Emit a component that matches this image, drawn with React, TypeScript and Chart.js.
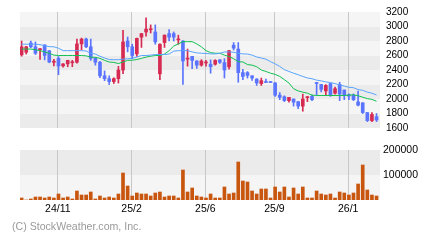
import React, { useEffect, useRef } from 'react';
import { Chart, registerables } from 'chart.js';

Chart.register(...registerables);

// ---- data (weekly candles) ----
const OPEN = [2609,2645,2773,2720,2680,2745,2665,2507,2560,2457, 2485,2500,2507,2760,2827,2720,2560,2507,2320,2280, 2240,2280,2400,2800,2720,2622,2853,2924,2955,2924, 2347,2778,2902,2902,2815,2800,2550,2587,2524,2467, 2497,2480,2480,2540,2502,2444,2742,2689,2364,2364, 2320,2276,2213,2235,2231,2222,2053,2031,1978,2000, 1964,1902,2018,2036,2222,2200,2111,2213,2080,2200, 2124,2060,2053,1960,1947,1813,1702,1756];
const HIGH = [2800,2725,2800,2787,2700,2750,2670,2547,2585,2490, 2535,2533,2827,2840,2840,2827,2573,2520,2387,2320, 2293,2450,2947,2855,2756,2840,2905,3120,3022,3022, 2760,2885,2956,2925,2880,2805,2689,2590,2530,2542, 2533,2540,2542,2545,2556,2670,2778,2778,2409,2378, 2320,2280,2289,2276,2231,2225,2089,2044,2022,2000, 1964,2067,2036,2053,2231,2200,2200,2213,2164,2231, 2124,2070,2070,2110,1950,1813,1813,1800];
const LOW = [2591,2620,2707,2613,2547,2540,2500,2455,2335,2440, 2445,2445,2493,2680,2707,2533,2467,2293,2253,2200, 2213,2220,2350,2650,2556,2587,2711,2867,2910,2756, 2267,2711,2800,2800,2756,2200,2453,2420,2422,2453, 2453,2356,2467,2490,2290,2410,2676,2231,2267,2289, 2258,2187,2187,2227,2227,2036,1991,1964,1956,1902, 1867,1831,1964,1978,2053,2098,2053,2036,2067,1978, 1991,1990,1978,1905,1800,1689,1689,1689];
const CLOSE = [2720,2720,2720,2631,2693,2600,2510,2520,2455,2484, 2533,2507,2760,2827,2720,2560,2507,2320,2280,2240, 2280,2400,2787,2720,2600,2836,2902,2964,2965,2787, 2756,2880,2853,2853,2825,2525,2560,2533,2467,2524, 2507,2445,2533,2505,2400,2667,2702,2364,2311,2325, 2290,2222,2253,2227,2227,2053,2022,1978,2022,1956, 1902,2000,2025,1991,2213,2133,2187,2053,2142,2067, 2053,2040,1991,1915,1813,1702,1787,1711];
const MA_LONG = [2756,2756,2756,2756,2750,2735,2722,2720,2700,2667, 2667,2667,2667,2667,2662,2630,2620,2590,2565,2545, 2542,2542,2550,2555,2560,2580,2600,2600,2605,2613, 2613,2613,2620,2660,2667,2667,2667,2650,2636,2631, 2628,2622,2622,2630,2648,2650,2645,2630,2622,2620, 2605,2580,2565,2550,2515,2485,2450,2405,2380,2356, 2335,2311,2290,2280,2260,2250,2235,2228,2212,2195, 2178,2162,2156,2130,2120,2095,2080,2055];
const MA_SHORT = [2689,2689,2689,2680,2667,2650,2630,2605,2600,2600, 2600,2600,2600,2600,2595,2578,2575,2560,2533,2510, 2505,2489,2510,2533,2535,2545,2560,2578,2590,2600, 2600,2620,2667,2730,2760,2791,2791,2791,2760,2720, 2667,2640,2631,2631,2605,2585,2556,2515,2511,2475, 2467,2445,2400,2380,2356,2340,2311,2267,2220,2142, 2111,2095,2080,2053,2048,2048,2048,2048,2048,2048, 2048,2053,2058,2045,2025,2005,1995,1969];
const VOLUME = [8000,0,4000,12000,12000,8000,12000,8000,24000,8000, 12000,4000,36000,20000,20000,32000,4000,16000,8000,12000, 8000,24000,108000,56000,16000,28000,24000,24000,16000,28000, 32000,12000,16000,16000,8000,120000,32000,48000,16000, 12000,8000,24000,8000,8000,52000,24000,28000,152000,76000,72000, 36000,24000,44000,44000,8000,52000,32000,52000,12000,48000, 24000,52000,8000,8000,36000,24000,20000,24000,8000,32000, 28000,20000,28000,64000,140000,40000,20000,16000];

const MONTH_INDEX = [8, 24, 40, 55, 71];
const MONTH_LABELS = ['24/11', '25/2', '25/6', '25/9', '26/1'];

const PRICE_MIN = 1600;
const PRICE_MAX = 3200;
const PRICE_STEP = 200;
const VOL_MIN = 0;
const VOL_MAX = 200000;
const VOL_STEP = 100000;

// ---- styles ----
const FONT = "'Liberation Sans', Arial, Helvetica, sans-serif";
const UP = '#d72a52';
const DOWN = '#5b74ff';
const MA_LONG_COLOR = '#5aa4ff';
const MA_SHORT_COLOR = '#12c050';
const VOL_COLOR = '#c8560f';
const GRID = '#c8c8c8';
const LIGHT = '#f5f5f5';
const DARK = '#ebebeb';

function bandPlugin(darkEven: boolean) {
  return {
    id: 'bands',
    beforeDraw(chart: any) {
      const { ctx, chartArea } = chart;
      const ys = chart.scales.y;
      const vals = ys.ticks.map((t: any) => t.value).sort((a: number, b: number) => a - b);
      ctx.save();
      for (let k = 0; k < vals.length - 1; k++) {
        const y1 = ys.getPixelForValue(vals[k]);
        const y2 = ys.getPixelForValue(vals[k + 1]);
        const dark = (k % 2 === 0) === darkEven;
        ctx.fillStyle = dark ? DARK : LIGHT;
        ctx.fillRect(chartArea.left, y2, chartArea.right - chartArea.left, y1 - y2);
      }
      ctx.restore();
    },
  };
}

function makeX(showLabels: boolean) {
  return {
    type: 'linear',
    min: -0.35,
    max: OPEN.length - 1 + 0.75,
    offset: false,
    bounds: 'data',
    afterBuildTicks: (s: any) => {
      s.ticks = MONTH_INDEX.map((v) => ({ value: v - 0.15 }));
    },
    afterFit: (s: any) => {
      s.height = showLabels ? 40 : 0;
    },
    grid: { color: GRID, lineWidth: 1, drawTicks: false, offset: false },
    border: { display: false },
    ticks: {
      display: showLabels,
      autoSkip: false,
      maxRotation: 0,
      minRotation: 0,
      padding: 3,
      color: '#000',
      font: { family: FONT, size: 10.5 },
      callback: (_v: any, i: number) => MONTH_LABELS[i],
    },
  };
}

const colorFor = (i: number) => (CLOSE[i] >= OPEN[i] ? UP : DOWN);

export default function App() {
  const priceRef = useRef<HTMLCanvasElement | null>(null);
  const volRef = useRef<HTMLCanvasElement | null>(null);

  useEffect(() => {
    const idx = OPEN.map((_, i) => i);
    const colors = idx.map(colorFor);

    const price = new Chart(priceRef.current as HTMLCanvasElement, {
      type: 'bar',
      data: {
        datasets: [
          {
            type: 'line',
            data: MA_LONG.map((v, i) => ({ x: i, y: v })),
            borderColor: MA_LONG_COLOR,
            borderWidth: 1,
            pointRadius: 0,
            tension: 0,
            fill: false,
            order: 0,
          } as any,
          {
            type: 'line',
            data: MA_SHORT.map((v, i) => ({ x: i, y: v })),
            borderColor: MA_SHORT_COLOR,
            borderWidth: 1,
            pointRadius: 0,
            tension: 0,
            fill: false,
            order: 0,
          } as any,
          {
            type: 'bar',
            data: idx.map((i) => ({ x: i, y: [OPEN[i], CLOSE[i]] })),
            backgroundColor: colors,
            borderWidth: 0,
            barThickness: 3,
            minBarLength: 1,
            grouped: false,
            order: 1,
          } as any,
          {
            type: 'bar',
            data: idx.map((i) => ({ x: i, y: [LOW[i], HIGH[i]] })),
            backgroundColor: colors,
            borderWidth: 0,
            barThickness: 1,
            minBarLength: 1,
            grouped: false,
            order: 2,
          } as any,
        ],
      },
      options: {
        responsive: false,
        maintainAspectRatio: false,
        animation: false,
        events: [],
        layout: { padding: { left: 20, top: 10, right: 0, bottom: 10 } },
        plugins: { legend: { display: false }, tooltip: { enabled: false } },
        scales: {
          x: makeX(false) as any,
          y: {
            type: 'linear',
            position: 'right',
            min: PRICE_MIN,
            max: PRICE_MAX,
            afterFit: (s: any) => {
              s.width = 60;
            },
            grid: { display: false, drawTicks: false },
            border: { display: false },
            ticks: {
              stepSize: PRICE_STEP,
              padding: 6,
              color: '#000',
              font: { family: FONT, size: 10 },
              callback: (v: any) => String(v),
            },
          },
        },
      },
      plugins: [bandPlugin(true)],
    } as any);

    const vol = new Chart(volRef.current as HTMLCanvasElement, {
      type: 'bar',
      data: {
        datasets: [
          {
            data: VOLUME.map((v, i) => ({ x: i, y: v })),
            backgroundColor: VOL_COLOR,
            borderWidth: 0,
            barThickness: 3,
            grouped: false,
          } as any,
        ],
      },
      options: {
        responsive: false,
        maintainAspectRatio: false,
        animation: false,
        events: [],
        layout: { padding: { left: 20, top: 10, right: 0, bottom: 0 } },
        plugins: { legend: { display: false }, tooltip: { enabled: false } },
        scales: {
          x: makeX(true) as any,
          y: {
            type: 'linear',
            position: 'right',
            min: VOL_MIN,
            max: VOL_MAX,
            afterFit: (s: any) => {
              s.width = 60;
            },
            grid: { display: false, drawTicks: false },
            border: { display: false },
            ticks: {
              stepSize: VOL_STEP,
              padding: 3,
              color: '#000',
              font: { family: FONT, size: 10.5 },
              callback: (v: any) => (v === 0 ? '' : String(v)),
            },
          },
        },
      },
      plugins: [bandPlugin(false)],
    } as any);

    return () => {
      price.destroy();
      vol.destroy();
    };
  }, []);

  return (
    <div style={{ position: 'fixed', left: 0, top: 0, width: 440, height: 240, background: '#fff' }}>
      <canvas ref={priceRef} width={440} height={140} style={{ position: 'absolute', left: 0, top: 0, display: 'block' }} />
      <canvas ref={volRef} width={440} height={100} style={{ position: 'absolute', left: 0, top: 140, display: 'block' }} />
      <div
        style={{
          position: 'absolute',
          left: 12,
          top: 220,
          fontFamily: FONT,
          fontSize: 10.6,
          lineHeight: '12px',
          color: '#9a9a9a',
          whiteSpace: 'nowrap',
        }}
      >
        (C) StockWeather.com, Inc.
      </div>
    </div>
  );
}
